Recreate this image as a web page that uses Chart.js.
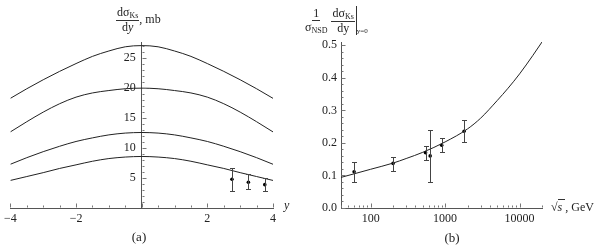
<!DOCTYPE html>
<html>
<head>
<meta charset="utf-8">
<script src="https://cdn.jsdelivr.net/npm/chart.js@4.4.0/dist/chart.umd.min.js"></script>
<style>
body { margin: 0; background: #fff; font-family: 'Liberation Serif', serif; color: #222; }
#wrap { position: relative; width: 599px; height: 246px; overflow: hidden; }
.box { position: absolute; top: 0; height: 246px; }
.lbl { position: absolute; font-size: 12px; line-height: 13px; white-space: nowrap; }
.frac { display: inline-flex; flex-direction: column; align-items: center; vertical-align: middle; }
.frac > span { display: block; padding: 0 1px; line-height: 13px; }
.frac > .num { border-bottom: 1px solid #333; }
.sub { font-size: 8px; position: relative; top: 2px; }
.cap { position: absolute; width: 40px; text-align: center; font-size: 13px; }
</style>
</head>
<body>
<div id="wrap">
  <div class="box" style="left:0;width:300px"><canvas id="panelA"></canvas></div>
  <div class="box" style="left:300px;width:299px"><canvas id="panelB"></canvas></div>

  <div class="lbl" style="left:116px;top:6px">
    <span class="frac"><span class="num">dσ<span class="sub">Ks</span></span><span>d<i>y</i></span></span>, mb
  </div>
  <div class="lbl" style="left:284px;top:199px"><i>y</i></div>
  <div class="cap" style="left:119px;top:229px">(a)</div>

  <div class="lbl" style="left:304px;top:6px">
    <span class="frac"><span class="num">1</span><span>σ<span class="sub">NSD</span></span></span>
    <span class="frac"><span class="num">dσ<span class="sub">Ks</span></span><span>dy</span></span><span style="display:inline-block;vertical-align:middle;border-left:1px solid #333;height:29px;margin-left:1px"></span><span class="sub" style="font-size:7px;top:10px">y=0</span>
  </div>
  <div class="lbl" style="left:551px;top:201px">√<span style="border-top:1px solid #333"><i>s</i>&nbsp;</span>, GeV</div>
  <div class="cap" style="left:432px;top:230px">(b)</div>
</div>
<script>
// panel (a): rapidity grid and the four model curves
var rapidity = [-4, -3.5, -3, -2.5, -2, -1.5, -1, -0.5, 0, 0.5, 1, 1.5, 2, 2.5, 3, 3.5, 4];
var curveTop = [18.3, 19.9, 21.4, 22.8, 24.1, 25.3, 26.2, 26.9, 27.1, 26.9, 26.2, 25.3, 24.1, 22.8, 21.4, 19.9, 18.3];
var curveSecond = [12.7, 14.4, 16.0, 17.4, 18.5, 19.2, 19.6, 19.9, 20.0, 19.9, 19.6, 19.2, 18.5, 17.4, 16.0, 14.4, 12.7];
var curveThird = [7.3, 8.4, 9.4, 10.3, 11.1, 11.7, 12.2, 12.5, 12.6, 12.5, 12.2, 11.7, 11.1, 10.3, 9.4, 8.4, 7.3];
var curveBottom = [4.6, 5.25, 5.9, 6.6, 7.2, 7.8, 8.25, 8.5, 8.6, 8.5, 8.25, 7.8, 7.2, 6.6, 5.9, 5.25, 4.6];

// panel (a): measured points
var measY = [2.75, 3.25, 3.75];
var measVal = [4.8, 4.3, 3.9];
var measLow = [2.8, 3.1, 2.8];
var measHigh = [6.7, 5.6, 4.95];

// panel (b): fit curve and data vs sqrt(s)
var fitEnergy = [40, 60, 100, 200, 300, 500, 1000, 2000, 3000, 5000, 7000, 10000, 15000, 20000];
var fitRatio = [0.094, 0.105, 0.119, 0.138, 0.152, 0.171, 0.203, 0.243, 0.276, 0.33, 0.368, 0.412, 0.468, 0.51];
var dataEnergy = [60, 200, 546, 630, 900, 1800];
var dataRatio = [0.111, 0.137, 0.170, 0.160, 0.193, 0.236];
var dataLow = [0.081, 0.113, 0.147, 0.079, 0.172, 0.202];
var dataHigh = [0.142, 0.157, 0.191, 0.241, 0.216, 0.269];

// tick labels
var aXLabels = [-4, -2, 2, 4];
var aYLabels = [5, 10, 15, 20, 25];
var bXLabels = [100, 1000, 10000];
var bYLabels = [0, 0.1, 0.2, 0.3, 0.4, 0.5];

function toXY(xs, ys) {
    return xs.map(function (x, i) { return { x: x, y: ys[i] }; });
}

var font = { family: "'Liberation Serif', serif", size: 12 };
var ink = '#222';

var errorBars = {
    id: 'errorBars',
    afterDatasetsDraw: function (chart) {
        var ctx = chart.ctx, xs = chart.scales.x, ys = chart.scales.y;
        chart.data.datasets.forEach(function (ds) {
            if (!ds.errLow) return;
            ctx.save();
            ctx.strokeStyle = '#444';
            ctx.lineWidth = 1;
            ctx.beginPath();
            ds.data.forEach(function (p, i) {
                var x = Math.round(xs.getPixelForValue(p.x)) + 0.5;
                var top = Math.round(ys.getPixelForValue(ds.errHigh[i])) + 0.5;
                var bot = Math.round(ys.getPixelForValue(ds.errLow[i])) + 0.5;
                ctx.moveTo(x, top); ctx.lineTo(x, bot);
                ctx.moveTo(x - 2.5, top); ctx.lineTo(x + 2.5, top);
                ctx.moveTo(x - 2.5, bot); ctx.lineTo(x + 2.5, bot);
            });
            ctx.stroke();
            ctx.restore();
        });
    }
};

// small inward tick marks like Mathematica axes
var tickMarks = {
    id: 'tickMarks',
    afterDraw: function (chart, args, o) {
        var ctx = chart.ctx, xs = chart.scales.x, ys = chart.scales.y, area = chart.chartArea;
        var ax = o.yAxisAt === undefined ? area.left : xs.getPixelForValue(o.yAxisAt);
        ax = Math.round(ax) + 0.5;
        var ay = Math.round(area.bottom) - 0.5;
        ctx.save();
        ctx.strokeStyle = '#777';
        ctx.lineWidth = 1;
        ctx.beginPath();
        [[o.xMinor, 2], [o.xMajor, 4]].forEach(function (set) {
            set[0].forEach(function (v) {
                var px = Math.round(xs.getPixelForValue(v)) + 0.5;
                ctx.moveTo(px, ay); ctx.lineTo(px, ay - set[1]);
            });
        });
        [[o.yMinor, 2], [o.yMajor, 4]].forEach(function (set) {
            set[0].forEach(function (v) {
                var py = Math.round(ys.getPixelForValue(v)) + 0.5;
                ctx.moveTo(ax, py); ctx.lineTo(ax + set[1], py);
            });
        });
        ctx.stroke();
        ctx.restore();
    }
};

function curve(ys) {
    return {
        data: toXY(rapidity, ys),
        borderColor: ink, borderWidth: 1, pointRadius: 0, fill: false,
        cubicInterpolationMode: 'monotone'
    };
}

var aXMinor = [], aYMinor = [];
for (var i = -8; i <= 8; i++) { if (i % 4 !== 0) aXMinor.push(i / 2); }
for (var j = 1; j <= 27; j++) { if (j % 5 !== 0) aYMinor.push(j); }

new Chart(document.getElementById('panelA'), {
    type: 'line',
    data: {
        datasets: [
            curve(curveTop), curve(curveSecond), curve(curveThird), curve(curveBottom),
            {
                data: toXY(measY, measVal), showLine: false,
                pointRadius: 1.8, pointBackgroundColor: '#000', pointBorderWidth: 0,
                errLow: measLow, errHigh: measHigh
            }
        ]
    },
    options: {
        responsive: true, maintainAspectRatio: false, animation: false,
        layout: { padding: { left: 7, right: 27, top: 42, bottom: 20 } },
        plugins: {
            legend: { display: false }, tooltip: { enabled: false },
            tickMarks: { yAxisAt: 0, xMajor: [-4, -2, 0, 2, 4], xMinor: aXMinor, yMajor: aYLabels, yMinor: aYMinor }
        },
        scales: {
            x: {
                type: 'linear', min: -4, max: 4,
                grid: { display: false, drawTicks: false },
                border: { color: '#555' },
                afterBuildTicks: function (s) { s.ticks = aXLabels.map(function (v) { return { value: v }; }); },
                afterFit: function (s) { s.height = 18; },
                ticks: { font: font, color: ink, padding: 4, autoSkip: false, maxRotation: 0,
                    callback: function (v) { return v < 0 ? '\u2212' + Math.abs(v) : String(v); } }
            },
            y: {
                min: 0, max: 27.7, position: { x: 0 },
                grid: { display: false, drawTicks: false },
                border: { color: '#555' },
                afterBuildTicks: function (s) { s.ticks = aYLabels.map(function (v) { return { value: v }; }); },
                // labels sit right-aligned on the axis, so pad them with spaces
                ticks: { font: font, color: ink, callback: function (v) { return v + '  '; } }
            }
        }
    },
    plugins: [errorBars, tickMarks]
});

var bXMinor = [40, 50, 60, 70, 80, 90, 200, 300, 400, 500, 600, 700, 800, 900,
    2000, 3000, 4000, 5000, 6000, 7000, 8000, 9000, 20000];
var bYMinor = [];
for (var k = 0; k <= 25; k++) { if (k % 5 !== 0) bYMinor.push(k / 50); }

new Chart(document.getElementById('panelB'), {
    type: 'line',
    data: {
        datasets: [
            {
                data: toXY(fitEnergy, fitRatio),
                borderColor: ink, borderWidth: 1, pointRadius: 0, fill: false,
                cubicInterpolationMode: 'monotone'
            },
            {
                data: toXY(dataEnergy, dataRatio), showLine: false,
                pointRadius: 1.8, pointBackgroundColor: '#000', pointBorderWidth: 0,
                errLow: dataLow, errHigh: dataHigh
            }
        ]
    },
    options: {
        responsive: true, maintainAspectRatio: false, animation: false,
        layout: { padding: { left: 0, right: 57, top: 42, bottom: 20 } },
        plugins: {
            legend: { display: false }, tooltip: { enabled: false },
            tickMarks: { xMajor: bXLabels, xMinor: bXMinor, yMajor: bYLabels, yMinor: bYMinor }
        },
        scales: {
            x: {
                type: 'logarithmic', min: 40, max: 20000,
                grid: { display: false, drawTicks: false },
                border: { color: '#555' },
                afterBuildTicks: function (s) { s.ticks = bXLabels.map(function (v) { return { value: v }; }); },
                afterFit: function (s) { s.height = 18; },
                ticks: { font: font, color: ink, padding: 4, autoSkip: false, maxRotation: 0,
                    callback: function (v) { return String(v); } }
            },
            y: {
                min: 0, max: 0.51,
                grid: { display: false, drawTicks: false },
                border: { color: '#555' },
                afterBuildTicks: function (s) { s.ticks = bYLabels.map(function (v) { return { value: v }; }); },
                afterFit: function (s) { s.width = 41; },
                ticks: { font: font, color: ink, padding: 4,
                    callback: function (v) { return v.toFixed(1); } }
            }
        }
    },
    plugins: [errorBars, tickMarks]
});
</script>
</body>
</html>
